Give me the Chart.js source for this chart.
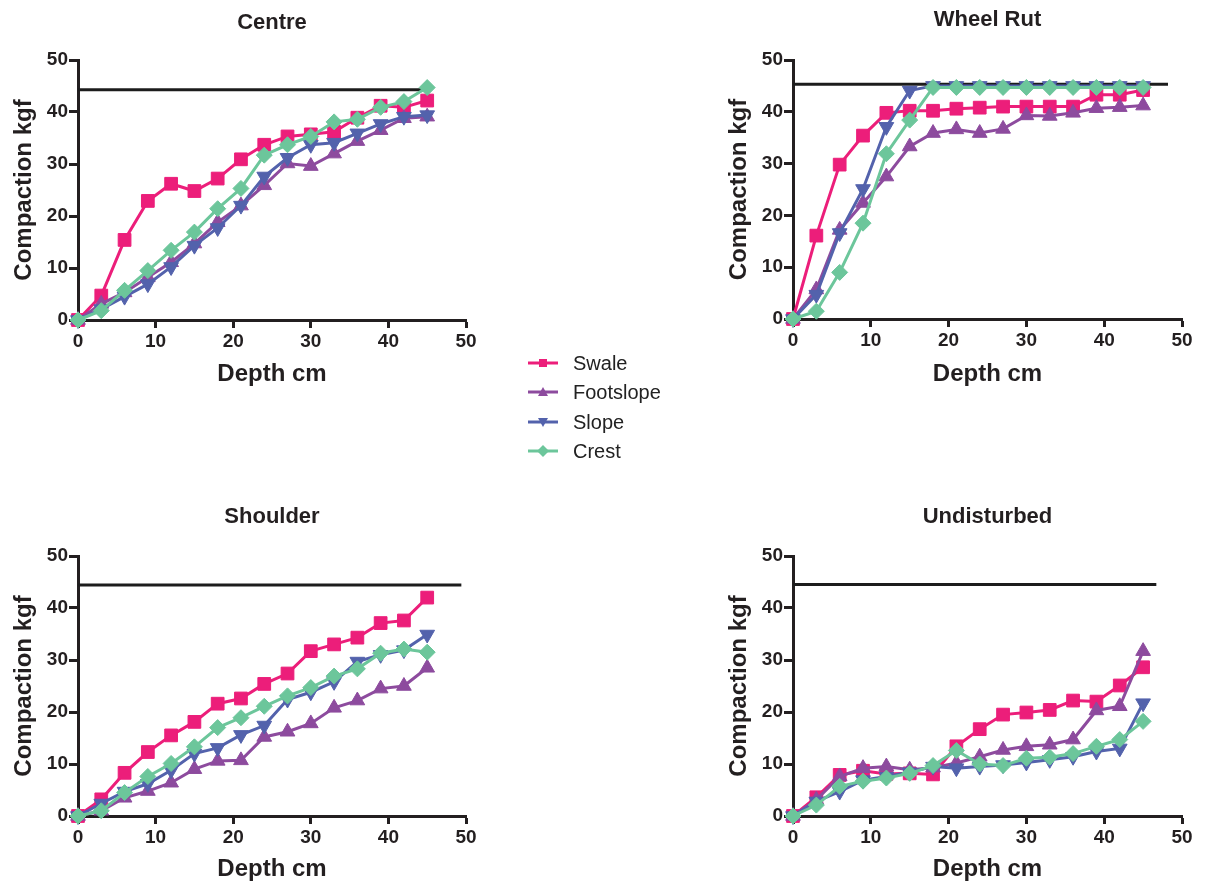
<!DOCTYPE html>
<html>
<head>
<meta charset="utf-8">
<script src="https://cdn.jsdelivr.net/npm/chart.js@4.4.0/dist/chart.umd.min.js"></script>
<style>
  html, body { margin: 0; padding: 0; background: #ffffff; }
  body { width: 1210px; height: 885px; position: relative; overflow: hidden;
         font-family: "Liberation Sans", Arial, Helvetica, sans-serif; }
  canvas { position: absolute; }
  .row { position: absolute; left: 528px; height: 24px; display: flex; align-items: center;
         white-space: nowrap; font-size: 20px; color: #222222; }
  .row svg { margin-right: 15px; }
</style>
</head>
<body>
<canvas id="cCentre" width="600" height="400" style="left:0px;top:0px"></canvas>
<canvas id="cRut" width="495" height="400" style="left:715px;top:0px"></canvas>
<canvas id="cShoulder" width="600" height="390" style="left:0px;top:495px"></canvas>
<canvas id="cUndisturbed" width="495" height="390" style="left:715px;top:495px"></canvas>

<div class="row" style="top:351px">
  <svg width="30" height="14"><line x1="0" y1="7" x2="30" y2="7" stroke="#EC1E7A" stroke-width="3"/><rect x="11" y="3" width="8" height="8" fill="#EC1E7A"/></svg>Swale</div>
<div class="row" style="top:380px">
  <svg width="30" height="14"><line x1="0" y1="7" x2="30" y2="7" stroke="#8D4B9E" stroke-width="3"/><polygon points="15,2 20,11 10,11" fill="#8D4B9E"/></svg>Footslope</div>
<div class="row" style="top:410px">
  <svg width="30" height="14"><line x1="0" y1="7" x2="30" y2="7" stroke="#5362AC" stroke-width="3"/><polygon points="10,3 20,3 15,12" fill="#5362AC"/></svg>Slope</div>
<div class="row" style="top:439px">
  <svg width="30" height="14"><line x1="0" y1="7" x2="30" y2="7" stroke="#6CC69B" stroke-width="3"/><polygon points="15,1 21,7 15,13 9,7" fill="#6CC69B"/></svg>Crest</div>

<script>
// Depth of each penetrometer reading (cm)
const depth = [0, 3, 6, 9, 12, 15, 18, 21, 24, 27, 30, 33, 36, 39, 42, 45];
const xTicks = [0, 10, 20, 30, 40, 50];
const yTicks = [0, 10, 20, 30, 40, 50];

// Centre of the track
const centreSwale     = [0, 4.7, 15.4, 22.9, 26.2, 24.8, 27.2, 30.9, 33.7, 35.3, 35.7, 36.2, 38.9, 41.2, 40.9, 42.2];
const centreFootslope = [0, 3.1, 5.3, 8.2, 11.1, 14.7, 18.8, 22.0, 25.9, 30.1, 29.6, 32.0, 34.4, 36.5, 38.8, 39.1];
const centreSlope     = [0, 2.1, 4.5, 6.9, 10.2, 14.3, 17.7, 22.0, 27.6, 31.2, 33.7, 34.1, 35.9, 37.7, 39.1, 39.4];
const centreCrest     = [0, 1.8, 5.7, 9.5, 13.4, 16.9, 21.4, 25.3, 31.7, 33.7, 35.3, 38.1, 38.6, 40.9, 42.0, 44.7];

// Wheel rut
const rutSwale     = [0, 16.1, 29.8, 35.4, 39.8, 40.2, 40.2, 40.6, 40.8, 41.0, 41.0, 41.0, 41.0, 43.3, 43.3, 44.2];
const rutFootslope = [0, 5.7, 17.2, 22.4, 27.5, 33.3, 35.9, 36.6, 35.9, 36.7, 39.3, 39.2, 39.8, 40.7, 40.9, 41.2];
const rutSlope     = [0, 4.7, 16.6, 25.1, 37.1, 44.1, 45.0, 45.0, 45.0, 45.0, 45.0, 45.0, 45.0, 45.0, 45.0, 45.0];
const rutCrest     = [0, 1.5, 9.0, 18.5, 31.9, 38.4, 44.7, 44.7, 44.7, 44.7, 44.7, 44.7, 44.7, 44.7, 44.7, 44.7];

// Shoulder
const shoulderSwale     = [0, 3.2, 8.3, 12.3, 15.5, 18.1, 21.6, 22.6, 25.4, 27.4, 31.7, 33.0, 34.3, 37.1, 37.6, 42.0];
const shoulderFootslope = [0, 1.0, 3.5, 4.8, 6.4, 9.0, 10.6, 10.7, 15.2, 16.2, 17.8, 20.8, 22.2, 24.5, 25.0, 28.5];
const shoulderSlope     = [0, 2.4, 4.7, 6.2, 8.8, 12.0, 13.1, 15.6, 17.4, 22.4, 23.8, 25.8, 29.7, 31.0, 31.9, 34.9];
const shoulderCrest     = [0, 1.0, 4.5, 7.6, 10.1, 13.3, 17.0, 18.9, 21.1, 23.1, 24.7, 26.9, 28.3, 31.3, 32.1, 31.5];

// Undisturbed ground
const undistSwale     = [0, 3.6, 7.9, 8.7, 8.1, 8.2, 8.0, 13.4, 16.7, 19.5, 19.9, 20.4, 22.2, 22.0, 25.1, 28.6];
const undistFootslope = [0, 3.1, 7.6, 9.2, 9.5, 8.9, 9.3, 10.2, 11.4, 12.7, 13.4, 13.7, 14.7, 20.3, 21.1, 31.7];
const undistSlope     = [0, 2.8, 4.7, 6.9, 7.6, 8.4, 9.5, 9.2, 9.5, 9.8, 10.3, 10.8, 11.4, 12.4, 13.0, 21.7];
const undistCrest     = [0, 2.1, 5.7, 6.7, 7.3, 8.2, 9.7, 12.6, 10.0, 9.7, 11.1, 11.3, 12.0, 13.4, 14.7, 18.2];

// Reference compaction level drawn across each panel: [level kgf, depth where it stops]
const centreLimit     = [44.3, 45.5];
const rutLimit        = [45.3, 48.2];
const shoulderLimit   = [44.4, 49.4];
const undistLimit     = [44.5, 46.7];

const seriesNames = ['Swale', 'Footslope', 'Slope', 'Crest'];

const INK = '#231f20';
const seriesStyle = [
  { color: '#EC1E7A', pointStyle: 'rect',     radius: 9,   rotation: 0,   order: 4 },
  { color: '#8D4B9E', pointStyle: 'triangle', radius: 8.5, rotation: 0,   order: 3 },
  { color: '#5362AC', pointStyle: 'triangle', radius: 8.5, rotation: 180, order: 2 },
  { color: '#6CC69B', pointStyle: 'rectRot',  radius: 8,   rotation: 0,   order: 1 }
];

function pairs(xs, ys) { return xs.map((x, i) => ({ x: x, y: ys[i] })); }

function makePanel(id, title, seriesList, limit, geom) {
  const datasets = seriesList.map((vals, i) => {
    const st = seriesStyle[i];
    return {
      label: seriesNames[i],
      data: pairs(depth, vals),
      borderColor: st.color,
      backgroundColor: st.color,
      borderWidth: 3,
      pointStyle: st.pointStyle,
      pointRadius: st.radius,
      pointRotation: st.rotation,
      pointBorderWidth: 1,
      pointBackgroundColor: st.color,
      pointBorderColor: st.color,
      tension: 0,
      clip: false,
      order: st.order
    };
  });
  datasets.push({
    label: 'limit',
    data: [{ x: 0, y: limit[0] }, { x: limit[1], y: limit[0] }],
    borderColor: '#1c1c1c',
    borderWidth: 3,
    pointRadius: 0,
    clip: false,
    order: 10
  });

  const tickFont = { family: '"Liberation Sans", Arial, sans-serif', size: 19, weight: 'bold' };
  const titleFont = { family: '"Liberation Sans", Arial, sans-serif', size: 24, weight: 'bold', lineHeight: 1.2 };

  new Chart(document.getElementById(id), {
    type: 'line',
    data: { datasets: datasets },
    options: {
      responsive: false,
      animation: false,
      devicePixelRatio: 1,
      events: [],
      layout: { padding: { left: 0, right: geom.padRight, top: 0, bottom: 0 } },
      plugins: {
        legend: { display: false },
        tooltip: { enabled: false },
        title: {
          display: true,
          text: title,
          fullSize: false,
          color: INK,
          font: { family: '"Liberation Sans", Arial, sans-serif', size: 22, weight: 'bold', lineHeight: 1.2 },
          padding: { top: geom.titleTop, bottom: geom.plotTop - geom.titleTop - 26.4 }
        }
      },
      scales: {
        x: {
          type: 'linear',
          min: 0, max: 50,
          afterBuildTicks: (s) => { s.ticks = xTicks.map(v => ({ value: v })); },
          afterFit: (s) => { s.height = geom.xAxisHeight; },
          border: { display: true, color: INK, width: 3 },
          grid: { display: true, drawOnChartArea: false, drawTicks: true, tickLength: 8, tickWidth: 3, tickColor: INK },
          ticks: { color: INK, font: tickFont, padding: 2, maxRotation: 0 },
          title: { display: true, text: 'Depth cm', color: INK, font: titleFont, padding: { top: 0, bottom: geom.xTitlePad } }
        },
        y: {
          type: 'linear',
          min: 0, max: 50,
          afterBuildTicks: (s) => { s.ticks = yTicks.map(v => ({ value: v })); },
          afterFit: (s) => { s.width = 78; },
          border: { display: true, color: INK, width: 3 },
          grid: { display: true, drawOnChartArea: false, drawTicks: true, tickLength: 9, tickWidth: 3, tickColor: INK },
          ticks: { color: INK, font: tickFont, padding: 1 },
          title: { display: true, text: 'Compaction kgf', color: INK, font: titleFont, padding: { top: 10, bottom: 0 } }
        }
      }
    }
  });
}

makePanel('cCentre', 'Centre',
  [centreSwale, centreFootslope, centreSlope, centreCrest], centreLimit,
  { padRight: 134, titleTop: 10, plotTop: 60, xAxisHeight: 80, xTitlePad: 11 });

makePanel('cRut', 'Wheel Rut',
  [rutSwale, rutFootslope, rutSlope, rutCrest], rutLimit,
  { padRight: 28, titleTop: 7, plotTop: 60, xAxisHeight: 81, xTitlePad: 11 });

makePanel('cShoulder', 'Shoulder',
  [shoulderSwale, shoulderFootslope, shoulderSlope, shoulderCrest], shoulderLimit,
  { padRight: 134, titleTop: 9, plotTop: 61, xAxisHeight: 69, xTitlePad: 1 });

makePanel('cUndisturbed', 'Undisturbed',
  [undistSwale, undistFootslope, undistSlope, undistCrest], undistLimit,
  { padRight: 28, titleTop: 9, plotTop: 61, xAxisHeight: 69, xTitlePad: 1 });
</script>
</body>
</html>
